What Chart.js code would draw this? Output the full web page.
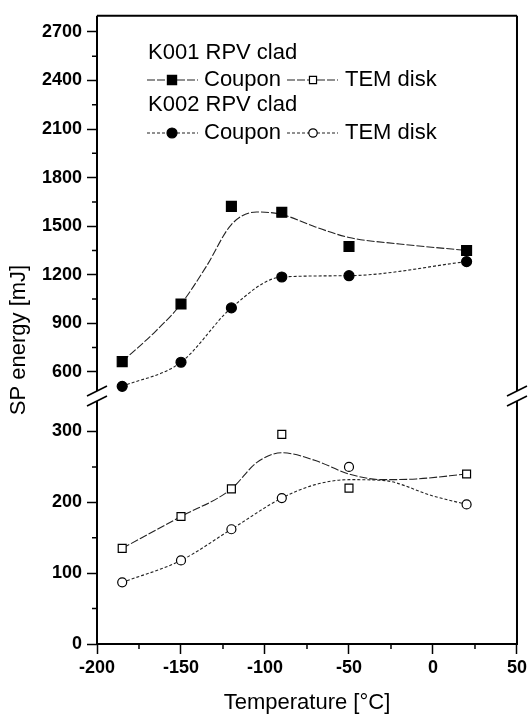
<!DOCTYPE html>
<html>
<head>
<meta charset="utf-8">
<script src="https://cdn.jsdelivr.net/npm/chart.js@4.4.1/dist/chart.umd.min.js"></script>
<style>
    html, body { margin: 0; padding: 0; background: #fff; }
    canvas { display: block; }
</style>
</head>
<body>
<canvas id="spChart" width="530" height="718"></canvas>
<script>
// measured points
const temps = [-185, -150, -120, -90, -50, 20];
const k001Coupon = [663, 1019, 1622, 1586, 1374, 1350];
const k002Coupon = [510, 659, 995, 1186, 1194, 1281];
const k001Tem = [135, 180, 219, 296, 220, 240];
const k002Tem = [87, 118, 162, 206, 250, 197];

// smoothing curves
const k001CouponFitT = [-185, -165, -150, -135, -120, -105, -90, -70, -50, -20, 20];
const k001CouponFit = [663, 852, 1019, 1250, 1510, 1588, 1572, 1495, 1430, 1390, 1350];
const k002CouponFitT = [-185, -150, -120, -90, -50, 20];
const k002CouponFit = [510, 659, 995, 1186, 1194, 1281];
const k001TemFitT = [-185, -150, -120, -105, -90, -70, -50, -30, -10, 20];
const k001TemFit = [135, 180, 219, 256, 270, 259, 240, 232, 233, 240];
const k002TemFitT = [-185, -150, -120, -90, -70, -50, -30, 0, 20];
const k002TemFit = [87, 118, 162, 206, 225, 232, 231, 209, 197];

// ticks
const xTicks = [-200, -150, -100, -50, 0, 50];
const yTopTicks = [600, 900, 1200, 1500, 1800, 2100, 2400, 2700];
const yBotTicks = [0, 100, 200, 300];
const xMinor = [-175, -125, -75, -25, 25];
const yTopMinor = [750, 1050, 1350, 1650, 1950, 2250, 2550];
const yBotMinor = [50, 150, 250];

const FONT = "'Liberation Sans', Arial, Helvetica, sans-serif";
const DASH_K001 = [8, 2];
const DASH_K002 = [3, 2];

function pts(xs, ys) {
    return xs.map((x, i) => ({ x: x, y: ys[i] }));
}

function markers(label, ys, axis, style, filled, radius) {
    return {
        label: label,
        data: pts(temps, ys),
        yAxisID: axis,
        showLine: false,
        pointStyle: style,
        pointRadius: radius,
        pointBackgroundColor: filled ? '#000' : '#fff',
        pointBorderColor: '#000',
        pointBorderWidth: 1.2
    };
}

function curve(xs, ys, axis, dash) {
    return {
        data: pts(xs, ys),
        yAxisID: axis,
        borderColor: '#222',
        borderWidth: 1.1,
        borderDash: dash,
        pointRadius: 0,
        cubicInterpolationMode: 'monotone',
        fill: false
    };
}

function drawSymbol(ctx, style, filled, r, x, y) {
    ctx.save();
    ctx.setLineDash([]);
    ctx.fillStyle = filled ? '#000' : '#fff';
    ctx.strokeStyle = '#000';
    ctx.lineWidth = 1.2;
    ctx.beginPath();
    if (style === 'rect') {
        const h = r * Math.SQRT1_2;
        ctx.rect(x - h, y - h, 2 * h, 2 * h);
    } else {
        ctx.arc(x, y, r, 0, Math.PI * 2);
    }
    ctx.fill();
    ctx.stroke();
    ctx.restore();
}

const legendPlugin = {
    id: 'cladLegend',
    afterDatasetsDraw(chart) {
        const ctx = chart.ctx;
        ctx.save();
        ctx.fillStyle = '#000';
        ctx.font = '22px ' + FONT;
        ctx.textBaseline = 'middle';
        ctx.textAlign = 'left';
        const rows = [
            { title: 'K001 RPV clad', ty: 53, y: 80, dash: DASH_K001, style: 'rect', r1: 6.5, r2: 5 },
            { title: 'K002 RPV clad', ty: 105, y: 133, dash: DASH_K002, style: 'circle', r1: 5, r2: 4.2 }
        ];
        rows.forEach(row => {
            ctx.fillStyle = '#000';
            ctx.fillText(row.title, 148, row.ty);
            ctx.strokeStyle = '#222';
            ctx.lineWidth = 1.1;
            ctx.setLineDash(row.dash);
            ctx.beginPath();
            ctx.moveTo(147, row.y); ctx.lineTo(198, row.y);
            ctx.moveTo(287, row.y); ctx.lineTo(338, row.y);
            ctx.stroke();
            ctx.setLineDash([]);
            drawSymbol(ctx, row.style, true, row.r1, 172, row.y);
            drawSymbol(ctx, row.style, false, row.r2, 313, row.y);
            ctx.fillStyle = '#000';
            ctx.fillText('Coupon', 204, row.y);
            ctx.fillText('TEM disk', 345, row.y);
        });
        ctx.restore();
    }
};

const framePlugin = {
    id: 'frameBreaks',
    afterDraw(chart) {
        const ctx = chart.ctx;
        const { left, right, top, bottom } = chart.chartArea;
        const yj = chart.scales.yTop.bottom;
        ctx.save();
        ctx.strokeStyle = '#000';
        ctx.lineWidth = 2;
        ctx.beginPath();
        ctx.moveTo(left, top); ctx.lineTo(right, top);
        ctx.moveTo(left - 1, bottom); ctx.lineTo(right + 1, bottom);
        [left, right].forEach(x => {
            ctx.moveTo(x, top); ctx.lineTo(x, yj - 5);
            ctx.moveTo(x, yj + 5); ctx.lineTo(x, bottom);
        });
        ctx.stroke();

        // axis break marks
        ctx.lineWidth = 1.6;
        ctx.beginPath();
        [left, right].forEach(x => {
            [-5, 5].forEach(d => {
                ctx.moveTo(x - 10, yj + d + 5);
                ctx.lineTo(x + 10, yj + d - 5);
            });
        });
        ctx.stroke();

        // minor ticks
        ctx.lineWidth = 1.5;
        ctx.beginPath();
        xMinor.forEach(v => {
            const px = chart.scales.x.getPixelForValue(v);
            ctx.moveTo(px, bottom); ctx.lineTo(px, bottom + 5);
        });
        yTopMinor.forEach(v => {
            const py = chart.scales.yTop.getPixelForValue(v);
            ctx.moveTo(left - 5, py); ctx.lineTo(left, py);
        });
        yBotMinor.forEach(v => {
            const py = chart.scales.yBot.getPixelForValue(v);
            ctx.moveTo(left - 5, py); ctx.lineTo(left, py);
        });
        ctx.stroke();

        // y axis title
        ctx.fillStyle = '#000';
        ctx.font = '22px ' + FONT;
        ctx.textAlign = 'center';
        ctx.textBaseline = 'middle';
        ctx.translate(19, 340);
        ctx.rotate(-Math.PI / 2);
        ctx.fillText('SP energy [mJ]', 0, 0);
        ctx.restore();
    }
};

const tickFont = { family: FONT, size: 18, weight: 'bold' };

function fixedTicks(values) {
    return function (scale) {
        scale.ticks = values.map(v => ({ value: v }));
    };
}

function yScale(min, max, values, weight) {
    return {
        type: 'linear',
        position: 'left',
        stack: 'energy',
        stackWeight: weight,
        min: min,
        max: max,
        afterBuildTicks: fixedTicks(values),
        ticks: { font: tickFont, color: '#000', padding: 5, autoSkip: false, callback: v => String(v) },
        grid: { drawOnChartArea: false, tickLength: 10, tickWidth: 1.5, color: '#000' },
        border: { display: false },
        afterFit(scale) { scale.width = 97; }
    };
}

Chart.defaults.font.family = FONT;

new Chart(document.getElementById('spChart').getContext('2d'), {
    type: 'line',
    data: {
        datasets: [
            markers('K001 Coupon', k001Coupon, 'yTop', 'rect', true, 7),
            markers('K002 Coupon', k002Coupon, 'yTop', 'circle', true, 5),
            markers('K001 TEM disk', k001Tem, 'yBot', 'rect', false, 5.6),
            markers('K002 TEM disk', k002Tem, 'yBot', 'circle', false, 4.5),
            curve(k001CouponFitT, k001CouponFit, 'yTop', DASH_K001),
            curve(k002CouponFitT, k002CouponFit, 'yTop', DASH_K002),
            curve(k001TemFitT, k001TemFit, 'yBot', DASH_K001),
            curve(k002TemFitT, k002TemFit, 'yBot', DASH_K002)
        ]
    },
    options: {
        responsive: false,
        animation: false,
        layout: { padding: { top: 7, right: 11, left: 0, bottom: 0 } },
        plugins: { legend: { display: false }, tooltip: { enabled: false } },
        scales: {
            x: {
                type: 'linear',
                min: -200,
                max: 50,
                afterBuildTicks: fixedTicks(xTicks),
                ticks: { font: tickFont, color: '#000', padding: 3, autoSkip: false, callback: v => String(v) },
                grid: { drawOnChartArea: false, tickLength: 10, tickWidth: 1.5, color: '#000' },
                border: { display: false },
                title: { display: true, text: 'Temperature [°C]', font: { family: FONT, size: 22 }, color: '#000', padding: { top: 4, bottom: 2 } },
                afterFit(scale) { scale.height = 74; }
            },
            yBot: yScale(0, 350, yBotTicks, 251),
            yTop: yScale(450, 2800, yTopTicks, 385)
        }
    },
    plugins: [legendPlugin, framePlugin]
});
</script>
</body>
</html>
